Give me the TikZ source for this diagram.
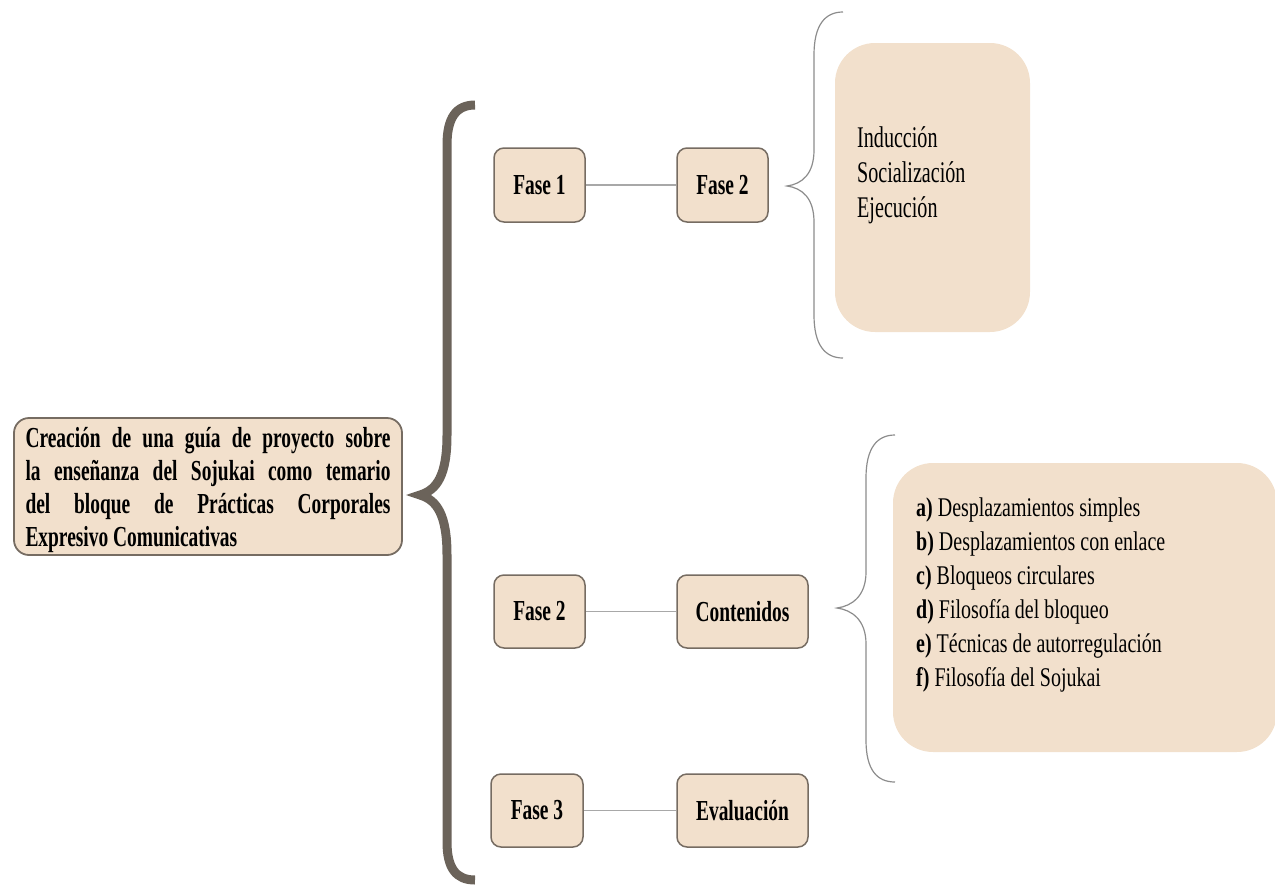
\documentclass[tikz,border=0pt]{standalone}
\usepackage{fontspec}
\setmainfont{Liberation Serif}[FakeStretch=0.67]
\newfontfamily\listfont{Liberation Serif}[FakeStretch=0.74]
\definecolor{boxfill}{HTML}{F2E0CC}
\definecolor{boxline}{HTML}{766C62}
\definecolor{linkgray}{HTML}{A8A8A8}
\definecolor{bracegray}{HTML}{8C8C8C}
\definecolor{bracedark}{HTML}{6B635A}
\begin{document}
\begin{tikzpicture}[x=1pt,y=-1pt,
  phase/.style={draw=boxline, line width=1.5pt, fill=boxfill, rounded corners=10pt,
    font=\fontsize{29}{33}\selectfont\bfseries, inner sep=0pt},
  link/.style={draw=linkgray, line width=1.5pt},
  smallbrace/.style={draw=bracegray, line width=1.2pt},
  bigbrace/.style={draw=bracedark, line width=9pt},
  panel/.style={fill=boxfill, rounded corners=40pt, inner sep=0pt},
  paneltext/.style={anchor=north west, inner sep=0pt, align=left}]
\useasboundingbox (0,0) rectangle (1275,884);

% main box
\node[phase, line width=1.8pt, minimum width=388pt, minimum height=137pt, rounded corners=15pt, align=left] (main) at (208,486.5)
 {\makebox[365pt][s]{\rule{0pt}{27pt}Creación de una guía de proyecto sobre}\\
  \makebox[365pt][s]{la enseñanza del Sojukai como temario}\\
  \makebox[365pt][s]{del bloque de Prácticas Corporales}\\
  Expresivo Comunicativas};

% big brace
\draw[bigbrace] (475,105) .. controls (456,105) and (447,118) .. (447,145)
  -- (447,435) .. controls (447,475) and (437,490) .. (420,495)
  .. controls (437,500) and (447,515) .. (447,555)
  -- (447,842) .. controls (447,868) and (456,880) .. (475,880);

% phase boxes
\node[phase, minimum width=91pt, minimum height=74pt] (f1) at (539.5,185) {Fase 1};
\node[phase, minimum width=91pt, minimum height=74pt] (f1b) at (722.5,185) {Fase 2};
\node[phase, minimum width=91pt, minimum height=73pt] (f2) at (539.5,611.5) {Fase 2};
\node[phase, minimum width=131pt, minimum height=73pt] (cont) at (742.5,611.5) {Contenidos};
\node[phase, minimum width=92pt, minimum height=73pt] (f3) at (537,810.5) {Fase 3};
\node[phase, minimum width=131pt, minimum height=73pt] (eval) at (742.5,810.5) {Evaluación};

\draw[link] (f1.east) -- (f1b.west);
\draw[link] (f2.east) -- (cont.west);
\draw[link] (f3.east) -- (eval.west);

% upper small brace
\draw[smallbrace] (843,12) .. controls (825,12) and (814,25) .. (814,55)
  -- (814,150) .. controls (814,174) and (802,184) .. (787,186)
  .. controls (802,188) and (814,198) .. (814,222)
  -- (814,315) .. controls (814,345) and (825,358) .. (843,358);

% upper panel
\node[panel, minimum width=195pt, minimum height=289pt] (p1) at (932.5,187.5) {};
\node[paneltext, font=\fontsize{30}{35}\selectfont] (t1) at (857,126.5)
 {Inducción\\Socialización\\Ejecución};

% lower small brace
\draw[smallbrace] (895,435) .. controls (877,435) and (866,448) .. (866,478)
  -- (866,572) .. controls (866,596) and (852,606) .. (837,608)
  .. controls (852,610) and (866,620) .. (866,644)
  -- (866,740) .. controls (866,770) and (877,782) .. (895,782);

% lower panel
\node[panel, minimum width=384pt, minimum height=289pt] (p2) at (1085,607.5) {};
\node[paneltext, font=\listfont\fontsize{27}{34}\selectfont] (t2) at (916,497.6)
 {\textbf{a)} Desplazamientos simples\\
  \textbf{b)} Desplazamientos con enlace\\
  \textbf{c)} Bloqueos circulares\\
  \textbf{d)} Filosofía del bloqueo\\
  \textbf{e)} Técnicas de autorregulación\\
  \textbf{f)} Filosofía del Sojukai};
\end{tikzpicture}
\end{document}
